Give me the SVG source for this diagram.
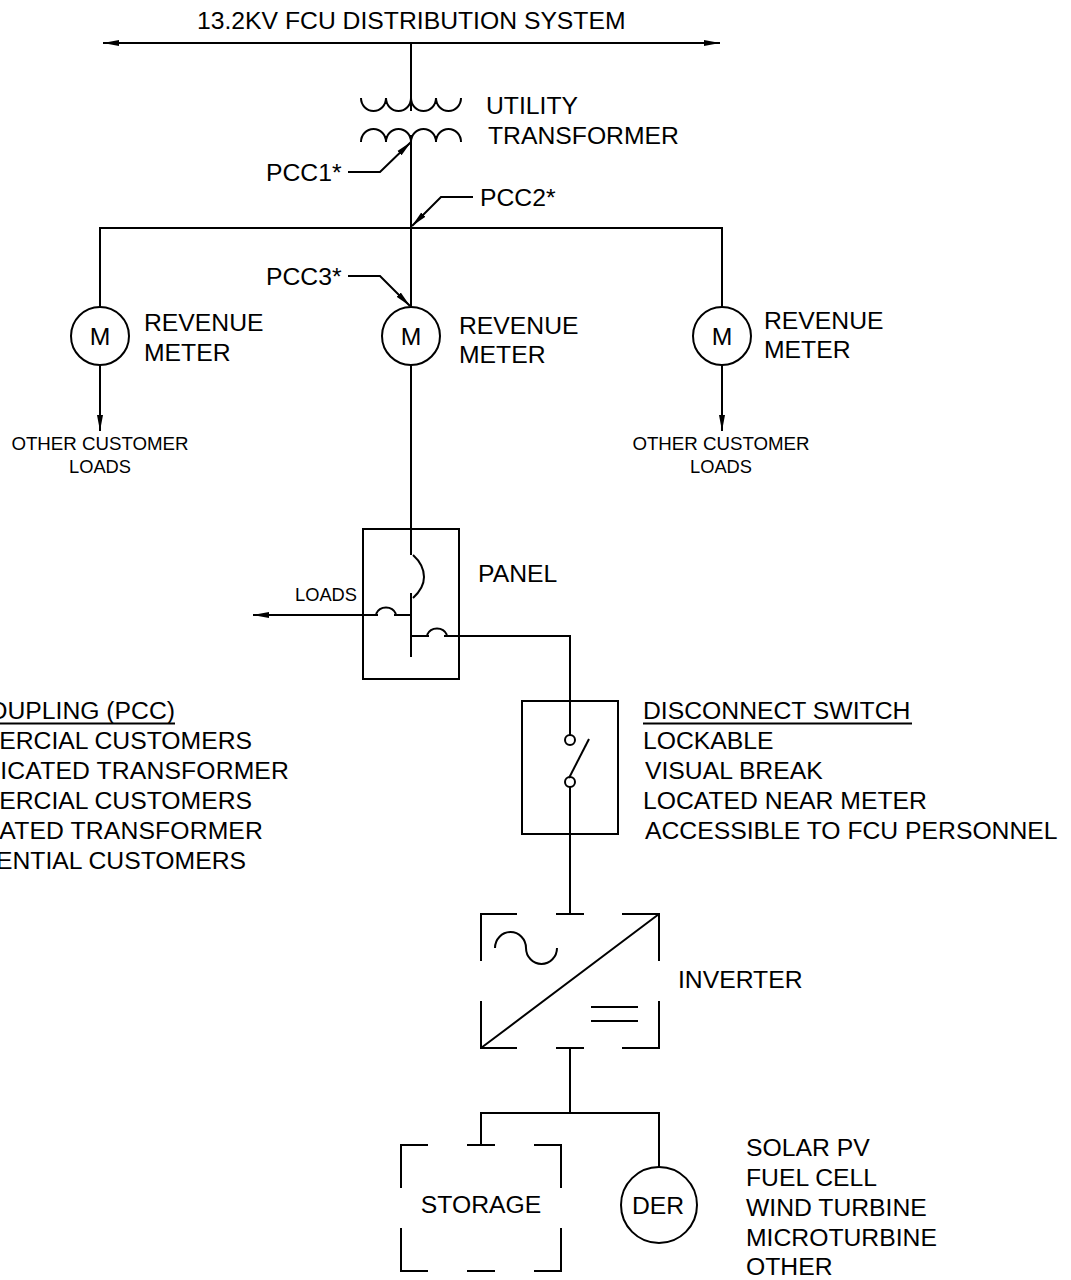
<svg xmlns="http://www.w3.org/2000/svg" width="1071" height="1280" viewBox="0 0 1071 1280">
<style>
text{font-family:"Liberation Sans",Arial,sans-serif;font-size:24.72px;fill:#000}
.s{font-size:18.3px}
.o{font-size:18.7px}
.m{text-anchor:middle}
.e{text-anchor:end}
.w{letter-spacing:.14px}
.l{fill:none;stroke:#000;stroke-width:2}
</style>
<defs>
<marker id="a" markerUnits="userSpaceOnUse" markerWidth="18" markerHeight="8" refX="16" refY="4" orient="auto"><path d="M0 1L16 4L0 7Z" fill="#000"/></marker>
</defs>
<rect width="1071" height="1280" fill="#fff"/>
<g id="connectors" class="l">
<path d="M411 43H103" marker-end="url(#a)"/>
<path d="M411 43H720" marker-end="url(#a)"/>
<path d="M411 43V111"/>
<path d="M411 135V307"/>
<path d="M100 307V228H722V307"/>
<path d="M100 365V431" marker-end="url(#a)"/>
<path d="M722 365V431" marker-end="url(#a)"/>
<path d="M411 365V555"/>
<path d="M411 593V657"/>
<path d="M411 615H394M378 615H253" marker-end="url(#a)"/>
<path d="M411 636H429M444 636H570V735"/>
<path d="M570 787V914"/>
<path d="M570 1048V1113M481 1145V1113H659V1167"/>
<path d="M348 172H380L411 142" marker-end="url(#a)"/>
<path d="M473 197H441L412 226" marker-end="url(#a)"/>
<path d="M348 276H380L410 306" marker-end="url(#a)"/>
</g>
<g id="bus"><text x="197" y="29">13.2KV FCU DISTRIBUTION SYSTEM</text></g>
<g id="transformer" class="l">
<path d="M361 98A12.5 13 0 0 0 386 98A12.5 13 0 0 0 411 98A12.5 13 0 0 0 436 98A12.5 13 0 0 0 461 98"/>
<path d="M361 142A12.5 13 0 0 1 386 142A12.5 13 0 0 1 411 142A12.5 13 0 0 1 436 142A12.5 13 0 0 1 461 142"/>
<text x="486" y="114" stroke="none">UTILITY</text>
<text x="488" y="144" stroke="none">TRANSFORMER</text>
</g>
<g id="pcc-labels">
<text x="266" y="181">PCC1*</text>
<text x="480" y="206">PCC2*</text>
<text x="266" y="285">PCC3*</text>
</g>
<g id="meter-left">
<circle class="l" cx="100" cy="336" r="29"/>
<text class="m" x="100" y="345">M</text>
<text x="144" y="331">REVENUE</text><text x="144" y="361">METER</text>
<text class="o m" x="100" y="450">OTHER CUSTOMER</text><text class="s m" x="100" y="473">LOADS</text>
</g>
<g id="meter-center">
<circle class="l" cx="411" cy="336" r="29"/>
<text class="m" x="411" y="345">M</text>
<text x="459" y="334">REVENUE</text><text x="459" y="363">METER</text>
</g>
<g id="meter-right">
<circle class="l" cx="722" cy="336" r="29"/>
<text class="m" x="722" y="345">M</text>
<text x="764" y="329">REVENUE</text><text x="764" y="358">METER</text>
<text class="o m" x="721" y="450">OTHER CUSTOMER</text><text class="s m" x="721" y="473">LOADS</text>
</g>
<g id="panel">
<rect class="l" x="363" y="529" width="96" height="150"/>
<path class="l" d="M413 555Q424 565 424 577Q424 588 413 598"/>
<path class="l" d="M376 614A11 11 0 0 1 396 614"/>
<path class="l" d="M427 635A11 11 0 0 1 447 635"/>
<text x="478" y="582">PANEL</text>
<text class="s" x="295" y="601">LOADS</text>
</g>
<g id="disconnect-switch">
<rect class="l" x="522" y="701" width="96" height="133"/>
<circle class="l" cx="570" cy="740" r="5"/>
<circle class="l" cx="570" cy="782" r="5"/>
<path class="l" d="M569 778L589 739"/>
<text x="643" y="719">DISCONNECT SWITCH</text>
<path class="l" d="M643 723.5H912"/>
<text x="643" y="749">LOCKABLE</text>
<text x="645" y="779">VISUAL BREAK</text>
<text x="643" y="809">LOCATED NEAR METER</text>
<text x="645" y="839">ACCESSIBLE TO FCU PERSONNEL</text>
</g>
<g id="pcc-notes">
<text class="e" x="175" y="719">OUPLING (PCC)</text>
<path class="l" d="M0 723.5H175"/>
<text class="e" x="252" y="749">ERCIAL CUSTOMERS</text>
<text class="e w" x="289" y="779">ICATED TRANSFORMER</text>
<text class="e" x="252" y="809">ERCIAL CUSTOMERS</text>
<text class="e w" x="263" y="839">ATED TRANSFORMER</text>
<text class="e" x="246" y="869">ENTIAL CUSTOMERS</text>
</g>
<g id="inverter">
<path class="l" d="M481 961V914H517M556 914H584M622 914H659V961M481 1001V1048H517M556 1048H584M622 1048H659V1001M481 1048L659 914"/>
<path class="l" d="M495 948A15.5 16 0 0 1 526 948A15.5 16 0 0 0 557 948"/>
<path class="l" d="M591 1007H638M591 1021H638"/>
<text x="678" y="988">INVERTER</text>
</g>
<g id="storage">
<path class="l" d="M401 1188V1145H428M467 1145H495M534 1145H561V1188M401 1228V1271H428M467 1271H495M534 1271H561V1228"/>
<text class="m" x="481" y="1213">STORAGE</text>
</g>
<g id="der">
<circle class="l" cx="659" cy="1205" r="38"/>
<text class="m" x="658" y="1214">DER</text>
<text x="746" y="1156">SOLAR PV</text>
<text x="746" y="1186">FUEL CELL</text>
<text x="746" y="1216">WIND TURBINE</text>
<text x="746" y="1246">MICROTURBINE</text>
<text x="746" y="1275">OTHER</text>
</g>
</svg>
